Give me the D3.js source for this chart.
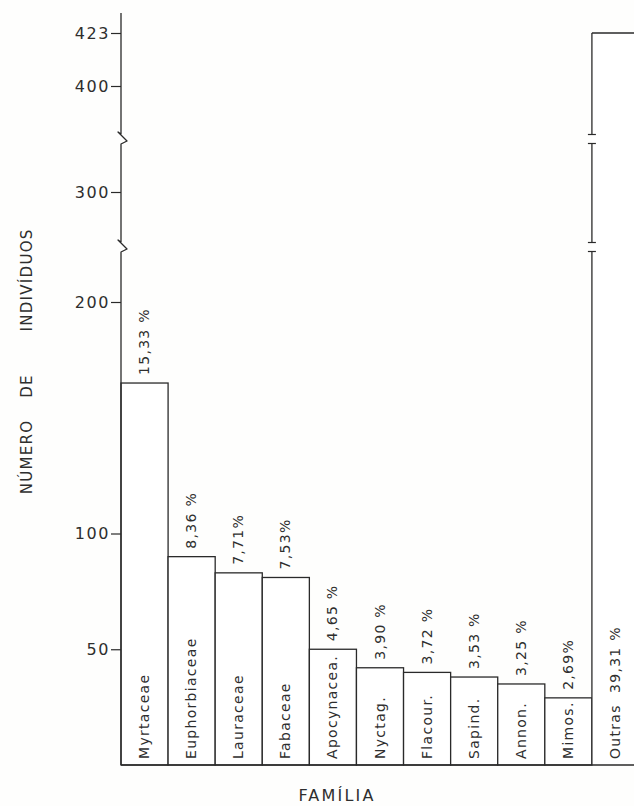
<!DOCTYPE html>
<html>
<head>
<meta charset="utf-8">
<script src="https://cdn.jsdelivr.net/npm/d3@7"></script>
<style>
  html, body { margin: 0; padding: 0; background: #fefefd; }
  svg { display: block; }
  text { font-family: "DejaVu Sans", sans-serif; fill: #2e2e2e; }
</style>
</head>
<body>
<svg id="chart" width="634" height="806"></svg>
<script>
// Individuals per botanical family
const categories = ["Myrtaceae", "Euphorbiaceae", "Lauraceae", "Fabaceae", "Apocynacea.",
                    "Nyctag.", "Flacour.", "Sapind.", "Annon.", "Mimos.", "Outras"];
const individuals = [165, 90, 83, 81, 50, 42, 40, 38, 35, 29, 423];
const percentLabels = ["15,33 %", "8,36 %", "7,71%", "7,53%", "4,65 %", "3,90 %",
                       "3,72 %", "3,53 %", "3,25 %", "2,69%", "39,31 %"];
const yTickValues = [50, 100, 200, 300, 400, 423];
const yBreakValues = [250, 350];

const ink = "#2a2a2a";
const svg = d3.select("#chart");

// Broken value axis: piecewise-linear between the breaks
const y = d3.scaleLinear()
  .domain([0, 200, 300, 400, 423])
  .range([765, 302, 192, 86, 33]);

const x = d3.scaleBand()
  .domain(categories)
  .range([121, 639])
  .paddingInner(0)
  .paddingOuter(0);

const x0 = x.range()[0];
const y0 = y(0);

// Bars
const bars = svg.append("g");
categories.forEach((c, i) => {
  const v = individuals[i];
  const bx = x(c), bw = x.bandwidth(), by = y(v);
  if (c !== "Outras") {
    bars.append("rect")
      .attr("x", bx).attr("y", by)
      .attr("width", bw).attr("height", y0 - by)
      .attr("fill", "#ffffff")
      .attr("stroke", ink).attr("stroke-width", 1.3);
  } else {
    // Tall bar: left edge interrupted at the axis breaks
    bars.append("rect")
      .attr("x", bx).attr("y", by)
      .attr("width", bw).attr("height", y0 - by)
      .attr("fill", "#ffffff");
    const gap = 4.5;
    const cuts = yBreakValues.map(b => y(b)).sort((a, b) => a - b);
    const segs = [[by, cuts[0] - gap], [cuts[0] + gap, cuts[1] - gap], [cuts[1] + gap, y0]];
    segs.forEach(s => {
      bars.append("line").attr("x1", bx).attr("x2", bx).attr("y1", s[0]).attr("y2", s[1])
        .attr("stroke", ink).attr("stroke-width", 1.3);
    });
    cuts.forEach(cy => {
      [cy - gap, cy + gap].forEach(ty => {
        bars.append("line").attr("x1", bx - 4).attr("x2", bx + 4).attr("y1", ty).attr("y2", ty)
          .attr("stroke", ink).attr("stroke-width", 1.2);
      });
    });
    bars.append("line").attr("x1", bx).attr("x2", bx + bw).attr("y1", by).attr("y2", by)
      .attr("stroke", ink).attr("stroke-width", 1.3);
    bars.append("line").attr("x1", bx + bw).attr("x2", bx + bw).attr("y1", by).attr("y2", y0)
      .attr("stroke", ink).attr("stroke-width", 1.3);
  }
});

// Baseline
svg.append("line")
  .attr("x1", x0).attr("x2", 634).attr("y1", y0).attr("y2", y0)
  .attr("stroke", ink).attr("stroke-width", 1.4);

// Value axis with ticks and labels
const axis = svg.append("g")
  .attr("transform", `translate(${x0},0)`)
  .call(d3.axisLeft(y).tickValues(yTickValues).tickSize(10).tickPadding(1)
    .tickFormat(d3.format("d")));
axis.select(".domain").remove();
axis.selectAll(".tick line").attr("stroke", ink).attr("stroke-width", 1.2);
axis.selectAll(".tick text")
  .style("font-family", "DejaVu Sans, sans-serif")
  .style("font-size", "16px")
  .style("letter-spacing", "1.6px")
  .attr("fill", "#2e2e2e");

// Axis line with zigzag breaks
const breaksPx = yBreakValues.map(b => y(b)).sort((a, b) => a - b);
let d = `M${x0},13`;
breaksPx.forEach(b => {
  d += ` L${x0},${b - 5} L${x0 - 3},${b - 7} L${x0 + 6},${b + 2} L${x0},${b + 5}`;
});
d += ` L${x0},${y0}`;
svg.append("path").attr("d", d).attr("fill", "none")
  .attr("stroke", ink).attr("stroke-width", 1.3).attr("stroke-linejoin", "round");

// Family names inside the bars, read bottom to top
const labelStyle = sel => sel
  .style("font-size", "14px")
  .style("letter-spacing", "1.3px");

svg.append("g").selectAll("text")
  .data(categories)
  .join("text")
  .attr("transform", c => `translate(${x(c) + x.bandwidth() / 2 + 4.5},${y0 - 6}) rotate(-90)`)
  .text(c => c)
  .call(labelStyle);

// Share labels above each bar (inside the tall last bar)
svg.append("g").selectAll("text")
  .data(categories)
  .join("text")
  .attr("transform", (c, i) => {
    const cx = x(c) + x.bandwidth() / 2 + 4.5;
    const ty = c === "Outras" ? y0 - 72 : y(individuals[i]) - 8;
    return `translate(${cx},${ty}) rotate(-90)`;
  })
  .text((c, i) => percentLabels[i])
  .call(labelStyle);

// Axis titles
const yTitle = svg.append("g").style("font-size", "15px").style("letter-spacing", "1.3px");
[["NÚMERO", 457], ["DE", 386], ["INDIVÍDUOS", 280]].forEach(([w, cy]) => {
  yTitle.append("text")
    .attr("transform", `translate(32,${cy}) rotate(-90)`)
    .attr("text-anchor", "middle")
    .text(w);
});

svg.append("text")
  .attr("x", 337).attr("y", 801)
  .attr("text-anchor", "middle")
  .style("font-size", "16px")
  .style("letter-spacing", "2.2px")
  .text("FAMÍLIA");
</script>
</body>
</html>
